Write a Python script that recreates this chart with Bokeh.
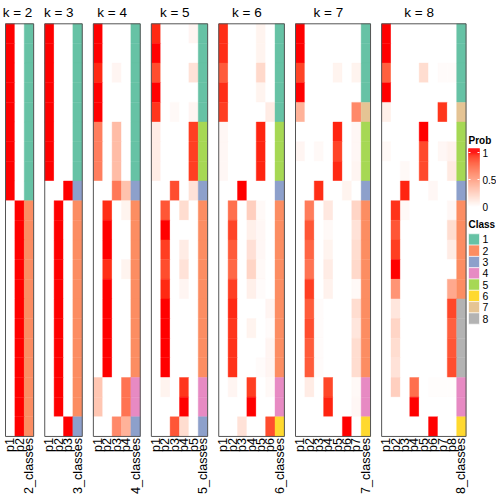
import math
from bokeh.plotting import figure
from bokeh.models import Range1d, ColumnDataSource
from bokeh.core.properties import value
from bokeh.embed import file_html
from bokeh.resources import INLINE

# ---------------- data ----------------
ks = [2, 3, 4, 5, 6, 7, 8]

prob_k2 = [[1, 0]] * 9 + [[0, 1]] * 12
class_k2 = [1] * 9 + [2] * 12

prob_k3 = [[1, 0, 0]] * 8 + [[0, 0, 1]] + [[0, 1, 0]] * 11 + [[0, 0, 1]]
class_k3 = [1] * 8 + [3] + [2] * 11 + [3]

prob_k4 = [
    [1, 0, 0, 0], [1, 0, 0, 0], [0.95, 0, 0.05, 0], [1, 0, 0, 0], [1, 0, 0, 0],
    [0.65, 0, 0.35, 0], [0.65, 0, 0.35, 0], [0.65, 0, 0.35, 0],
    [0, 0, 0.68, 0.32],
    [0, 0.94, 0, 0.06], [0, 1, 0, 0], [0, 1, 0, 0], [0, 0.94, 0, 0.06],
    [0, 1, 0, 0], [0, 1, 0, 0], [0, 1, 0, 0], [0, 1, 0, 0], [0, 1, 0, 0],
    [0.3, 0, 0, 0.7], [0.3, 0, 0, 0.7],
    [0, 0, 0.6, 0.4],
]
class_k4 = [1] * 8 + [3] + [2] * 9 + [4, 4] + [3]

prob_k5 = [
    [0.95, 0, 0, 0, 0.05], [1, 0, 0, 0, 0], [0.85, 0, 0, 0, 0.15], [1, 0, 0, 0, 0],
    [0.92, 0, 0.03, 0, 0.05],
    [0.1, 0, 0, 0, 0.9], [0.1, 0, 0, 0, 0.9], [0.1, 0, 0, 0, 0.9],
    [0, 0, 0.85, 0, 0.15],
    [0, 0.82, 0, 0.18, 0], [0, 1, 0, 0, 0], [0, 0.9, 0, 0.1, 0], [0, 0.85, 0, 0.15, 0],
    [0, 0.95, 0, 0.05, 0], [0, 1, 0, 0, 0], [0, 1, 0, 0, 0], [0, 1, 0, 0, 0], [0, 1, 0, 0, 0],
    [0, 0.06, 0, 0.92, 0], [0, 0, 0, 1, 0],
    [0, 0, 0.82, 0.18, 0],
]
class_k5 = [1] * 5 + [5] * 3 + [3] + [2] * 9 + [4, 4] + [3]

prob_k6 = [
    [0.94, 0, 0, 0, 0.06, 0], [0.94, 0, 0, 0, 0.06, 0], [0.8, 0, 0, 0, 0.2, 0],
    [0.94, 0, 0, 0, 0.06, 0], [0.9, 0, 0, 0, 0, 0.1],
    [0.04, 0, 0, 0, 0.96, 0], [0.04, 0, 0, 0, 0.96, 0], [0.04, 0, 0, 0, 0.96, 0],
    [0, 0, 1, 0, 0, 0],
    [0, 0.72, 0, 0.25, 0.03, 0], [0, 0.88, 0, 0.08, 0.04, 0], [0, 0.8, 0, 0.16, 0.04, 0],
    [0, 0.75, 0, 0.22, 0.03, 0], [0, 0.9, 0, 0.08, 0.02, 0], [0, 0.95, 0, 0, 0, 0.05],
    [0, 0.92, 0, 0.06, 0, 0.02], [0, 0.93, 0, 0, 0, 0.05], [0, 0.93, 0, 0, 0.02, 0.05],
    [0, 0.05, 0, 0.9, 0, 0.03], [0, 0, 0, 1, 0, 0],
    [0, 0, 0.15, 0, 0, 0.85],
]
class_k6 = [1] * 5 + [5] * 3 + [3] + [2] * 9 + [4, 4] + [6]

prob_k7 = [
    [1, 0, 0, 0, 0, 0, 0], [1, 0, 0, 0, 0, 0, 0], [0.88, 0, 0, 0, 0.06, 0, 0.06],
    [1, 0, 0, 0, 0, 0, 0], [0.4, 0, 0, 0, 0, 0, 0.6],
    [0, 0, 0, 0, 0.96, 0, 0.04], [0.05, 0, 0.03, 0, 0.88, 0, 0.04], [0, 0, 0, 0, 0.95, 0, 0.05],
    [0, 0, 0.94, 0, 0, 0.06, 0],
    [0, 0.66, 0, 0.12, 0, 0, 0.22], [0, 0.82, 0, 0.03, 0, 0, 0.15], [0, 0.76, 0, 0.06, 0, 0, 0.18],
    [0, 0.7, 0, 0.1, 0, 0, 0.2], [0, 0.9, 0, 0.07, 0, 0, 0.03], [0, 0.8, 0.02, 0, 0, 0, 0.18],
    [0, 0.85, 0.02, 0, 0, 0, 0.13], [0, 0.8, 0.02, 0, 0, 0, 0.18], [0, 0.8, 0.02, 0, 0, 0, 0.18],
    [0, 0.1, 0, 0.87, 0, 0, 0.03], [0, 0, 0, 0.96, 0, 0, 0.04],
    [0, 0, 0, 0, 0, 1, 0],
]
class_k7 = [1, 1, 1, 1, 7, 5, 5, 5, 3] + [2] * 9 + [4, 4] + [6]

prob_k8 = [
    [1, 0, 0, 0, 0, 0, 0, 0], [1, 0, 0, 0, 0, 0, 0, 0], [0.78, 0, 0, 0, 0.18, 0, 0.02, 0.02],
    [1, 0, 0, 0, 0, 0, 0, 0], [0.08, 0, 0, 0, 0, 0, 0.92, 0],
    [0, 0, 0, 0, 1, 0, 0, 0], [0.03, 0, 0, 0, 0.86, 0, 0.04, 0.07], [0, 0, 0.03, 0, 0.86, 0, 0, 0.11],
    [0, 0, 0.96, 0, 0, 0.04, 0, 0],
    [0, 0.93, 0.03, 0, 0, 0, 0, 0.04], [0, 0.82, 0, 0, 0, 0, 0, 0.18], [0, 0.9, 0, 0, 0, 0, 0, 0.1],
    [0, 1, 0, 0, 0, 0, 0, 0], [0, 0.55, 0, 0, 0, 0, 0, 0.45],
    [0, 0.13, 0, 0, 0, 0, 0, 0.87], [0, 0.22, 0, 0, 0, 0, 0, 0.78], [0, 0.18, 0, 0, 0, 0, 0, 0.82],
    [0, 0.15, 0, 0, 0, 0, 0, 0.85],
    [0, 0.25, 0, 0.72, 0, 0.01, 0.01, 0.01], [0, 0, 0, 1, 0, 0, 0, 0],
    [0, 0, 0, 0, 0, 1, 0, 0],
]
class_k8 = [1, 1, 1, 1, 7, 5, 5, 5, 3] + [2] * 5 + [8] * 4 + [4, 4] + [6]

probs = {2: prob_k2, 3: prob_k3, 4: prob_k4, 5: prob_k5, 6: prob_k6, 7: prob_k7, 8: prob_k8}
classes = {2: class_k2, 3: class_k3, 4: class_k4, 5: class_k5, 6: class_k6, 7: class_k7, 8: class_k8}

class_labels = ["1", "2", "3", "4", "5", "6", "7", "8"]
class_colors = ["#66C2A5", "#FC8D62", "#8DA0CB", "#E78AC3", "#A6D854", "#FFD92F", "#E5C494", "#B3B3B3"]
prob_ticks = [0, 0.5, 1]
prob_tick_labels = ["0", "0.5", "1"]

# ---------------- colour ramp white -> red in LAB ----------------
XN, YN, ZN = 0.95047, 1.0, 1.08883


def _lin(c):
    c = c / 255.0
    return c / 12.92 if c <= 0.04045 else ((c + 0.055) / 1.055) ** 2.4


def _gam(c):
    c = min(max(c, 0.0), 1.0)
    return 12.92 * c if c <= 0.0031308 else 1.055 * c ** (1 / 2.4) - 0.055


def rgb2lab(r, g, b):
    R, G, B = _lin(r), _lin(g), _lin(b)
    X = 0.4124 * R + 0.3576 * G + 0.1805 * B
    Y = 0.2126 * R + 0.7152 * G + 0.0722 * B
    Z = 0.0193 * R + 0.1192 * G + 0.9505 * B
    f = lambda t: t ** (1 / 3) if t > 0.008856 else 7.787 * t + 16 / 116
    fx, fy, fz = f(X / XN), f(Y / YN), f(Z / ZN)
    return 116 * fy - 16, 500 * (fx - fy), 200 * (fy - fz)


def lab2hex(L, a, b):
    fy = (L + 16) / 116
    fx = fy + a / 500
    fz = fy - b / 200
    finv = lambda t: t ** 3 if t ** 3 > 0.008856 else (t - 16 / 116) / 7.787
    X, Y, Z = finv(fx) * XN, finv(fy) * YN, finv(fz) * ZN
    R = 3.2406 * X - 1.5372 * Y - 0.4986 * Z
    G = -0.9689 * X + 1.8758 * Y + 0.0415 * Z
    B = 0.0557 * X - 0.2040 * Y + 1.0570 * Z
    return "#%02x%02x%02x" % tuple(int(round(_gam(c) * 255)) for c in (R, G, B))


LAB_W = rgb2lab(255, 255, 255)
LAB_R = rgb2lab(255, 0, 0)


def prob_color(v):
    v = min(max(v, 0.0), 1.0)
    return lab2hex(*[w + (r - w) * v for w, r in zip(LAB_W, LAB_R)])


# ---------------- layout (reference pixels) ----------------
TOP, ROW_H, NROW = 23.3, 19.65, 21
CW, GAP, LEFT0 = 9.38, 11.1, 5.0
FONT = value("Liberation Sans")

p = figure(width=496, height=496, x_range=Range1d(0, 496), y_range=Range1d(496, 0),
           output_backend="svg", toolbar_location=None, min_border=0,
           outline_line_color=None, background_fill_color="white")
p.axis.visible = False
p.grid.visible = False

cells = dict(l=[], r=[], t=[], b=[], c=[])
borders = dict(l=[], r=[], t=[], b=[])
titles = dict(x=[], y=[], s=[])
labs = dict(x=[], y=[], s=[])

left = LEFT0
for k in ks:
    ncol = k + 1
    for i in range(NROW):
        y0 = TOP + i * ROW_H
        row = probs[k][i]
        for j in range(ncol):
            x0 = left + j * CW
            col = prob_color(row[j]) if j < k else class_colors[classes[k][i] - 1]
            cells["l"].append(x0); cells["r"].append(x0 + CW)
            cells["t"].append(y0); cells["b"].append(y0 + ROW_H)
            cells["c"].append(col)
    right = left + ncol * CW
    borders["l"].append(left); borders["r"].append(right)
    borders["t"].append(TOP); borders["b"].append(TOP + NROW * ROW_H)
    titles["x"].append(max(left + k * CW / 2, 17.0)); titles["y"].append(11.5)
    titles["s"].append("k = %d" % k)
    names = ["p%d" % (j + 1) for j in range(k)] + ["%d_classes" % k]
    for j, nm in enumerate(names):
        labs["x"].append(left + (j + 0.5) * CW)
        labs["y"].append(TOP + NROW * ROW_H + 1.5)
        labs["s"].append(nm)
    left = right + GAP

p.quad(left="l", right="r", top="t", bottom="b", fill_color="c", line_color="c",
       line_width=0.4, source=ColumnDataSource(cells))
p.quad(left="l", right="r", top="t", bottom="b", fill_color=None, line_color="#555555",
       line_width=1, source=ColumnDataSource(borders))
p.text(x="x", y="y", text="s", source=ColumnDataSource(titles), text_font=FONT,
       text_font_size="13.5px", text_align="center", text_baseline="middle", text_color="black")
p.text(x="x", y="y", text="s", source=ColumnDataSource(labs), text_font=FONT,
       text_font_size="12.6px", text_align="right", text_baseline="middle", angle=math.pi / 2,
       text_color="black")

# ---------------- legends ----------------
LX0, LX1, LBL_X = 468.0, 479.0, 482.0
p.text(x=[LX0], y=[139.5], text=["Prob"], text_font=FONT, text_font_size="10px",
       text_font_style="bold", text_baseline="middle", text_color="black")
y_zero, px_per_unit = 206.0, 54.0
bar = dict(t=[], b=[], c=[])
n = 58
for i in range(n):
    yb = y_zero - i * (58.0 / n)
    yt = yb - 58.0 / n
    v = (y_zero - (yb + yt) / 2) / px_per_unit
    bar["t"].append(yt); bar["b"].append(yb); bar["c"].append(prob_color(v))
p.quad(left=LX0, right=LX1, top="t", bottom="b", fill_color="c", line_color="c",
       line_width=0.4, source=ColumnDataSource(bar))
tick_y = [y_zero - v * px_per_unit for v in prob_ticks]
p.segment(x0=[LX0] * 3, x1=[LX0 + 2] * 3, y0=tick_y, y1=tick_y, line_color="white", line_width=1)
p.segment(x0=[LX1 - 2] * 3, x1=[LX1] * 3, y0=tick_y, y1=tick_y, line_color="white", line_width=1)
p.text(x=[LBL_X] * 3, y=tick_y, text=prob_tick_labels, text_font=FONT, text_font_size="10px",
       text_baseline="middle", text_color="black")

p.text(x=[LX0], y=[223.5], text=["Class"], text_font=FONT, text_font_size="10px",
       text_font_style="bold", text_baseline="middle", text_color="black")
BOX_T, BOX_H = 233.3, 11.3
box_t = [BOX_T + i * BOX_H for i in range(len(class_labels))]
box_b = [t + BOX_H for t in box_t]
p.quad(left=LX0, right=LX1, top=box_t, bottom=box_b, fill_color=class_colors,
       line_color="white", line_width=0.6)
p.text(x=[LBL_X] * len(class_labels), y=[t + BOX_H / 2 for t in box_t], text=class_labels,
       text_font=FONT, text_font_size="10.5px", text_baseline="middle", text_color="black")

open("out.html", "w").write(file_html(p, INLINE))
